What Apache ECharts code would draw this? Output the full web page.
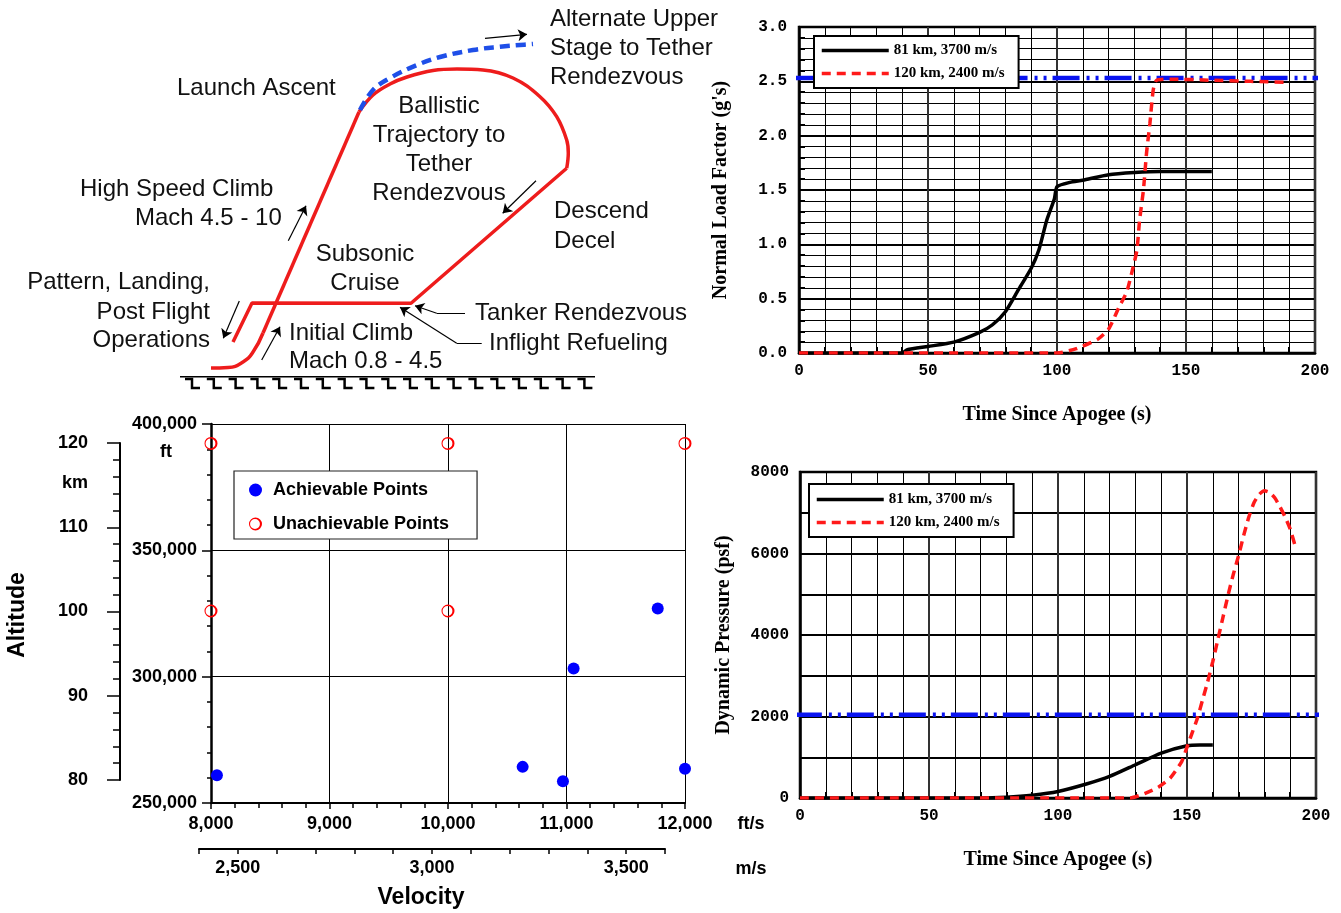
<!DOCTYPE html>
<html>
<head>
<meta charset="utf-8">
<script src="https://cdn.jsdelivr.net/npm/echarts@6/dist/echarts.min.js"></script>
<style>
  html, body { margin: 0; padding: 0; background: #fff; }
  #c { width: 1341px; height: 913px; }
</style>
</head>
<body>
<div id="c"></div>
<script>
// ---------- mission profile sketch (hidden 700 x 400 drawing plane) ----------
const initialClimb = [[211, 368], [228, 367.5], [243, 362], [253, 352], [263, 333]];
const highSpeedClimb = [[263, 333], [359, 112]];
const ballisticArc = [[359, 112], [373, 95], [390, 84], [407, 77], [433, 70.5], [457, 69], [483, 70],
  [513, 78], [540, 96.7], [556.7, 116.7], [566.7, 140], [568.3, 153], [566.7, 168.3]];
const descentCruiseLanding = [[566.7, 168.3], [411, 303.3], [252, 303], [233, 342]];
const upperStagePath = [[360, 110], [373, 90], [390, 78], [417, 65], [440, 57], [473, 50], [500, 46.7], [520, 45], [533, 44]];
const motionArrows = [
  [[485, 38.3], [527, 34.3]],
  [[536, 180.7], [502.7, 213.3]],
  [[288.3, 240.7], [306, 205.7]],
  [[261.7, 360], [280, 326.7]],
  [[239.3, 301], [223.3, 338.3]],
  [[436.7, 313.3], [415, 305.7]],
  [[456.7, 343.3], [400, 307.3]]
];
const calloutLeaders = [
  [[465, 313.3], [436.7, 313.3]],
  [[481.7, 343.3], [456.7, 343.3]]
];
const groundLine = [[180, 376.7], [595, 376.7]];
const groundHatchCount = 19;

const sketchLabels = [
  { text: 'Alternate Upper', x: 550, y: 19, align: 'left' },
  { text: 'Stage to Tether', x: 550, y: 48, align: 'left' },
  { text: 'Rendezvous', x: 550, y: 77, align: 'left' },
  { text: 'Launch Ascent', x: 177, y: 88, align: 'left' },
  { text: 'Ballistic', x: 439, y: 106, align: 'center' },
  { text: 'Trajectory to', x: 439, y: 135, align: 'center' },
  { text: 'Tether', x: 439, y: 164, align: 'center' },
  { text: 'Rendezvous', x: 439, y: 193, align: 'center' },
  { text: 'High Speed Climb', x: 80, y: 189, align: 'left' },
  { text: 'Mach 4.5 - 10', x: 135, y: 218, align: 'left' },
  { text: 'Descend', x: 554, y: 211, align: 'left' },
  { text: 'Decel', x: 554, y: 241, align: 'left' },
  { text: 'Subsonic', x: 365, y: 254, align: 'center' },
  { text: 'Cruise', x: 365, y: 283, align: 'center' },
  { text: 'Pattern, Landing,', x: 210, y: 282, align: 'right' },
  { text: 'Post Flight', x: 210, y: 312, align: 'right' },
  { text: 'Operations', x: 210, y: 340, align: 'right' },
  { text: 'Tanker Rendezvous', x: 475, y: 313, align: 'left' },
  { text: 'Inflight Refueling', x: 489, y: 343, align: 'left' },
  { text: 'Initial Climb', x: 289, y: 333, align: 'left' },
  { text: 'Mach 0.8 - 4.5', x: 289, y: 361, align: 'left' }
];

// ---------- normal load factor vs time since apogee ----------
const seriesNames = ['81 km, 3700 m/s', '120 km, 2400 m/s'];
const loadTime81 = [0, 40, 42, 50, 60, 70, 75, 80, 85, 90, 93, 96, 99, 100, 105, 110, 120, 130, 140, 160];
const load81 = [0, 0, 0.03, 0.06, 0.10, 0.19, 0.26, 0.38, 0.58, 0.78, 0.95, 1.22, 1.42, 1.53, 1.57, 1.59, 1.64, 1.66, 1.67, 1.67];
const loadTime120 = [0, 100, 107.5, 116, 120, 124, 127, 129.5, 131, 132, 133.5, 134.7, 136, 137.3, 138.6, 145, 160, 175, 190];
const load120 = [0, 0, 0.04, 0.13, 0.22, 0.42, 0.56, 0.79, 0.95, 1.22, 1.50, 1.84, 2.11, 2.42, 2.51, 2.52, 2.51, 2.50, 2.49];
const loadLimitTime = [-2.5, 204];
const loadLimit = [2.53, 2.53];

// ---------- dynamic pressure vs time since apogee ----------
const qTime81 = [0, 70, 80, 90, 100, 111, 120, 130, 140, 150, 155, 160];
const q81 = [0, 0, 20, 70, 160, 343, 530, 816, 1102, 1282, 1300, 1300];
const qTime120 = [0, 128, 134, 139, 143.5, 148, 150, 152, 154, 156, 158, 160, 162, 164, 166, 168, 170, 172, 174, 176, 178, 180, 182, 184, 186, 188, 190, 192.3];
const q120 = [0, 0, 120, 270, 490, 900, 1250, 1600, 1950, 2400, 2850, 3350, 3900, 4450, 5000, 5500, 5950, 6450, 6900, 7250, 7450, 7540, 7500, 7370, 7150, 6900, 6600, 6100];
const qLimitTime = [-2, 203.5];
const qLimit = [2040, 2040];

// ---------- altitude vs velocity test points ----------
const achievableVel = [8050, 10630, 10970, 11060, 11770, 12000];   // ft/s
const achievableAlt = [261000, 264300, 258600, 303200, 327000, 263600]; // ft
const unachievableVel = [8000, 8000, 10000, 10000, 12000];
const unachievableAlt = [392300, 326000, 392300, 326000, 392300];

const zip = (a, b) => a.map((v, i) => [v, b[i]]);
const comma = v => Number(v).toLocaleString('en-US');

const sansBold = { fontFamily: 'Liberation Sans', fontWeight: 'bold', color: '#000' };
const serifBold = { fontFamily: 'Liberation Serif', fontWeight: 'bold', color: '#000' };
const monoTick = { fontFamily: 'Liberation Mono', fontWeight: 'bold', fontSize: 16, color: '#000' };

const RED = '#ff1a1a';
const BLUE = '#0a14f0';

function hiddenAxis(gridIndex, min, max, inverse) {
  return { type: 'value', gridIndex, min, max, inverse: !!inverse, show: false };
}

function timeAxis(gridIndex) {
  return {
    type: 'value', gridIndex, min: 0, max: 200, interval: 50,
    axisLine: { show: true, onZero: false, lineStyle: { color: '#000', width: 2.5 } },
    axisTick: { show: false, inside: true },
    minorTick: { show: true, splitNumber: 5, length: 6, lineStyle: { color: '#000', width: 2 } },
    axisLabel: Object.assign({ margin: 10, formatter: v => String(v) }, monoTick),
    splitLine: { show: true, lineStyle: { color: '#333', width: 2 } },
    minorSplitLine: { show: true, lineStyle: { color: '#000', width: 1 } },
    name: 'Time Since Apogee (s)', nameLocation: 'middle', nameGap: 52,
    nameTextStyle: Object.assign({ fontSize: 20 }, serifBold)
  };
}

// ground hatch marks under the sketch
const groundHatch = [];
for (let i = 0; i < groundHatchCount; i++) {
  const x = 185 + i * 21.8;
  groundHatch.push({ coords: [[x, 379], [x + 7, 379], [x + 7, 388], [x + 15, 388]] });
}

// open ring, heavier on its right side, for unachievable points
const openRing = 'path://M10,0 A10,10 0 1,1 -10,0 A10,10 0 1,1 10,0 Z M6.8,0 A7.6,7.6 0 1,0 -8.4,0 A7.6,7.6 0 1,0 6.8,0 Z';

const sketchLine = (data, extra) => Object.assign({
  type: 'line', xAxisIndex: 0, yAxisIndex: 0, data, symbol: 'none', silent: true,
  lineStyle: { color: '#ee1c1c', width: 3.5 }
}, extra || {});

const timeLegend = (left, top, padTop) => ({
  data: seriesNames, orient: 'vertical', left, top,
  itemWidth: 67, itemHeight: 14, itemGap: 8, padding: [padTop, 14, 7, 6],
  backgroundColor: '#fff', borderColor: '#000', borderWidth: 2,
  lineStyle: { width: 'inherit' },
  itemStyle: { opacity: 0 },
  textStyle: Object.assign({ fontSize: 15 }, serifBold)
});

const option = {
  animation: false,
  backgroundColor: '#fff',
  grid: [
    { left: 0, top: 0, width: 700, height: 400 },
    { left: 799, top: 27, width: 516, height: 326, show: true, borderColor: '#000', borderWidth: 2.5 },
    { left: 800, top: 472, width: 516, height: 326, show: true, borderColor: '#000', borderWidth: 2.5 },
    { left: 211, top: 424, width: 474, height: 379 },
    { left: 120, top: 443, width: 2, height: 337 },
    { left: 199, top: 848, width: 466, height: 1 }
  ],
  xAxis: [
    hiddenAxis(0, 0, 700),
    timeAxis(1),
    timeAxis(2),
    {
      type: 'value', gridIndex: 3, min: 8000, max: 12000, interval: 1000,
      axisLine: { onZero: false, lineStyle: { color: '#000', width: 2 } },
      axisTick: { length: 6, lineStyle: { color: '#000', width: 1.5 } },
      minorTick: { show: true, splitNumber: 5, length: 5, lineStyle: { color: '#000', width: 1.5 } },
      axisLabel: Object.assign({ fontSize: 18, margin: 12, formatter: comma }, sansBold),
      splitLine: { show: true, lineStyle: { color: '#000', width: 1 } }
    },
    hiddenAxis(4, 0, 1),
    {
      type: 'value', gridIndex: 5, min: 2400, max: 3600, interval: 100,
      axisLine: { onZero: false, lineStyle: { color: '#000', width: 2 } },
      axisTick: { length: 5, lineStyle: { color: '#000', width: 1.5 } },
      axisLabel: Object.assign({ fontSize: 18, margin: 10, formatter: v => (v % 500 === 0 ? comma(v) : '') }, sansBold),
      splitLine: { show: false }
    }
  ],
  yAxis: [
    hiddenAxis(0, 0, 400, true),
    {
      type: 'value', gridIndex: 1, min: 0, max: 3, interval: 0.5,
      axisLine: { show: true, onZero: false, lineStyle: { color: '#000', width: 2.5 } },
      axisTick: { show: false, inside: true },
      minorTick: { show: true, splitNumber: 5, length: 6, lineStyle: { color: '#000', width: 2 } },
      axisLabel: Object.assign({ margin: 12, formatter: v => v.toFixed(1) }, monoTick),
      splitLine: { show: true, lineStyle: { color: '#000', width: 2 } },
      minorSplitLine: { show: true, lineStyle: { color: '#000', width: 1 } },
      name: "Normal Load Factor (g's)", nameLocation: 'middle', nameGap: 68,
      nameTextStyle: Object.assign({ fontSize: 20 }, serifBold)
    },
    {
      type: 'value', gridIndex: 2, min: 0, max: 8000, interval: 2000,
      axisLine: { show: true, onZero: false, lineStyle: { color: '#000', width: 2.5 } },
      axisTick: { show: false, inside: true },
      minorTick: { show: true, splitNumber: 2, length: 6, lineStyle: { color: '#000', width: 2 } },
      axisLabel: Object.assign({ margin: 11, formatter: v => String(v) }, monoTick),
      splitLine: { show: true, lineStyle: { color: '#000', width: 2 } },
      minorSplitLine: { show: true, lineStyle: { color: '#000', width: 2 } },
      name: 'Dynamic Pressure (psf)', nameLocation: 'middle', nameGap: 66,
      nameTextStyle: Object.assign({ fontSize: 20 }, serifBold)
    },
    {
      type: 'value', gridIndex: 3, min: 250000, max: 400000, interval: 50000,
      axisLine: { onZero: false, lineStyle: { color: '#000', width: 2.5 } },
      axisTick: { length: 9, lineStyle: { color: '#000', width: 1.5 } },
      minorTick: { show: true, splitNumber: 5, length: 4, lineStyle: { color: '#000', width: 1.5 } },
      axisLabel: Object.assign({ fontSize: 18, margin: 14, formatter: comma }, sansBold),
      splitLine: { show: true, lineStyle: { color: '#000', width: 1 } }
    },
    {
      type: 'value', gridIndex: 4, min: 80, max: 120, interval: 10,
      axisLine: { onZero: false, lineStyle: { color: '#000', width: 2 } },
      axisTick: { length: 13, lineStyle: { color: '#000', width: 1.5 } },
      minorTick: { show: true, splitNumber: 5, length: 7, lineStyle: { color: '#000', width: 1.5 } },
      axisLabel: Object.assign({ fontSize: 18, margin: 32 }, sansBold),
      splitLine: { show: false }
    },
    hiddenAxis(5, 0, 1)
  ],
  legend: [
    timeLegend(814, 36, 7),
    timeLegend(809, 484, 8),
    {
      data: ['Achievable Points', 'Unachievable Points'], orient: 'vertical', left: 234, top: 471,
      itemWidth: 25, itemHeight: 13, itemGap: 16, padding: [10, 28, 6, 15],
      symbolKeepAspect: true,
      backgroundColor: '#fff', borderColor: '#222', borderWidth: 1.2,
      textStyle: Object.assign({ fontSize: 18 }, sansBold)
    }
  ],
  graphic: [],
  series: [
    // sketch: trajectory
    sketchLine(initialClimb, { smooth: 0.5 }),
    sketchLine(highSpeedClimb),
    sketchLine(ballisticArc, { smooth: 0.4 }),
    sketchLine(descentCruiseLanding),
    sketchLine(upperStagePath, { smooth: 0.4, lineStyle: { color: '#1f4fe8', width: 4.5, type: [10, 6] } }),
    sketchLine(groundLine, { lineStyle: { color: '#000', width: 1.5 } }),
    {
      type: 'lines', coordinateSystem: 'cartesian2d', xAxisIndex: 0, yAxisIndex: 0, silent: true,
      symbol: ['none', 'arrow'], symbolSize: 9,
      lineStyle: { color: '#000', width: 1.2, opacity: 1, curveness: 0 },
      data: motionArrows.map(c => ({ coords: c }))
    },
    {
      type: 'lines', coordinateSystem: 'cartesian2d', xAxisIndex: 0, yAxisIndex: 0, silent: true,
      symbol: 'none', lineStyle: { color: '#000', width: 1.2, opacity: 1 },
      data: calloutLeaders.map(c => ({ coords: c }))
    },
    {
      type: 'lines', coordinateSystem: 'cartesian2d', xAxisIndex: 0, yAxisIndex: 0, silent: true,
      polyline: true, symbol: 'none',
      lineStyle: { color: '#000', width: 2.5, opacity: 1, join: 'miter' },
      data: groundHatch
    },

    // load factor
    {
      type: 'line', xAxisIndex: 1, yAxisIndex: 1, data: zip(loadLimitTime, loadLimit), symbol: 'none', clip: false,
      lineStyle: { color: BLUE, width: 4.5, type: [27, 7, 3, 6, 3, 6] }
    },
    {
      name: seriesNames[0], type: 'line', xAxisIndex: 1, yAxisIndex: 1, data: zip(loadTime81, load81),
      symbol: 'none', smooth: 0.2, itemStyle: { color: '#000' }, lineStyle: { color: '#000', width: 3.5 }
    },
    {
      name: seriesNames[1], type: 'line', xAxisIndex: 1, yAxisIndex: 1, data: zip(loadTime120, load120),
      symbol: 'none', smooth: 0.2, itemStyle: { color: RED }, lineStyle: { color: RED, width: 3.5, type: [9, 6] }
    },

    // dynamic pressure
    {
      type: 'line', xAxisIndex: 2, yAxisIndex: 2, data: zip(qLimitTime, qLimit), symbol: 'none', clip: false,
      lineStyle: { color: BLUE, width: 4.5, type: [27, 7, 3, 6, 3, 6] }
    },
    {
      name: seriesNames[0], type: 'line', xAxisIndex: 2, yAxisIndex: 2, data: zip(qTime81, q81),
      symbol: 'none', smooth: 0.2, itemStyle: { color: '#000' }, lineStyle: { color: '#000', width: 3.5 }
    },
    {
      name: seriesNames[1], type: 'line', xAxisIndex: 2, yAxisIndex: 2, data: zip(qTime120, q120),
      symbol: 'none', smooth: 0.2, itemStyle: { color: RED }, lineStyle: { color: RED, width: 3.5, type: [9, 6] }
    },

    // altitude vs velocity
    {
      name: 'Achievable Points', type: 'scatter', xAxisIndex: 3, yAxisIndex: 3, clip: false,
      data: zip(achievableVel, achievableAlt), symbol: 'circle', symbolSize: 12,
      itemStyle: { color: '#0000ff', opacity: 1 }
    },
    {
      name: 'Unachievable Points', type: 'scatter', xAxisIndex: 3, yAxisIndex: 3, clip: false,
      data: zip(unachievableVel, unachievableAlt), symbol: openRing, symbolSize: 13,
      itemStyle: { color: '#ff0000', opacity: 1 }
    }
  ]
};

// sketch captions
sketchLabels.forEach(l => {
  option.graphic.push({
    type: 'text', x: l.x, y: l.y, silent: true,
    style: { text: l.text, font: '24px "Liberation Sans"', fill: '#111', align: l.align, verticalAlign: 'middle' }
  });
});

// unit captions and axis titles of the altitude / velocity plot
const plotCaptions = [
  { text: 'ft', x: 166, y: 452, size: 18, rot: 0 },
  { text: 'km', x: 75, y: 483, size: 18, rot: 0 },
  { text: 'ft/s', x: 751, y: 824, size: 18, rot: 0 },
  { text: 'm/s', x: 751, y: 869, size: 18, rot: 0 },
  { text: 'Velocity', x: 421, y: 898, size: 23, rot: 0 },
  { text: 'Altitude', x: 18, y: 615, size: 23, rot: Math.PI / 2 }
];
plotCaptions.forEach(c => {
  option.graphic.push({
    type: 'text', x: c.x, y: c.y, rotation: c.rot, silent: true,
    style: { text: c.text, font: 'bold ' + c.size + 'px "Liberation Sans"', fill: '#000', align: 'center', verticalAlign: 'middle' }
  });
});

const chart = echarts.init(document.getElementById('c'));
chart.setOption(option);
</script>
</body>
</html>
